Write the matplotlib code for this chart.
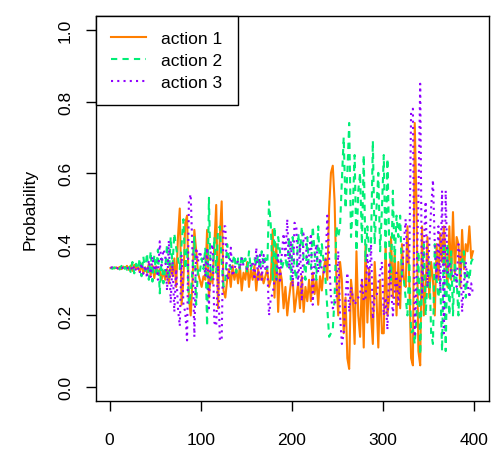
import numpy as np
import matplotlib
matplotlib.use("Agg")
import matplotlib.pyplot as plt

plt.rcParams["font.family"] = ["Liberation Sans", "DejaVu Sans"]

# Zeitpunkte (jeder zweite von 1 bis 399)
steps = np.arange(1, 400, 2)

# Wahrscheinlichkeiten (10 Werte pro Zeile)
action1 = [
    .333, .334, .332, .335, .331, .336, .330, .337, .332, .339,
    .328, .340, .325, .342, .330, .336, .322, .344, .318, .335,
    .320, .345, .312, .340, .305, .338, .315, .330, .300, .325,
    .300, .330, .290, .345, .310, .360, .280, .420, .500, .230,
    .300, .460, .480, .250, .200, .300, .440, .380, .320, .300,
    .280, .310, .300, .440, .250, .320, .290, .400, .510, .220,
    .420, .520, .270, .250, .300, .330, .280, .340, .300, .330,
    .290, .340, .270, .320, .300, .350, .280, .330, .300, .340,
    .270, .330, .300, .320, .290, .310, .330, .280, .300, .440,
    .250, .400, .210, .330, .300, .220, .280, .200, .250, .290,
    .300, .210, .250, .290, .220, .310, .210, .280, .240, .300,
    .240, .320, .260, .300, .230, .310, .270, .330, .360, .300,
    .500, .600, .620, .520, .300, .200, .350, .300, .150, .250,
    .080, .050, .300, .250, .120, .380, .200, .140, .300, .110,
    .400, .180, .330, .200, .120, .350, .250, .110, .300, .150,
    .150, .400, .200, .250, .420, .250, .380, .200, .350, .220,
    .400, .300, .280, .450, .300, .080, .060, .740, .500, .100,
    .060, .450, .200, .280, .420, .250, .350, .300, .200, .400,
    .300, .430, .350, .450, .350, .280, .450, .300, .490, .320,
    .420, .400, .280, .440, .330, .400, .380, .450, .360, .380,
]
action2 = [
    .333, .331, .335, .330, .337, .329, .339, .327, .336, .328,
    .340, .322, .350, .318, .345, .330, .360, .310, .365, .325,
    .375, .300, .380, .295, .370, .320, .385, .262, .360, .290,
    .330, .400, .300, .420, .340, .430, .390, .360, .330, .400,
    .470, .330, .390, .230, .260, .330, .420, .230, .330, .320,
    .360, .330, .390, .170, .530, .300, .310, .420, .320, .440,
    .450, .350, .280, .300, .400, .360, .330, .350, .370, .320,
    .360, .330, .370, .340, .360, .320, .380, .330, .350, .360,
    .340, .370, .330, .380, .340, .360, .330, .520, .450, .300,
    .450, .300, .420, .380, .330, .350, .360, .330, .420, .300,
    .420, .330, .300, .430, .380, .450, .360, .300, .420, .330,
    .330, .450, .380, .300, .450, .330, .400, .350, .300, .220,
    .140, .150, .160, .250, .450, .420, .450, .580, .700, .500,
    .600, .740, .420, .500, .650, .380, .550, .600, .400, .650,
    .350, .450, .380, .400, .690, .400, .500, .600, .380, .500,
    .650, .350, .640, .400, .300, .550, .350, .480, .420, .480,
    .300, .300, .250, .200, .350, .150, .160, .120, .200, .380,
    .090, .300, .400, .200, .300, .350, .150, .120, .400, .300,
    .250, .300, .100, .400, .100, .400, .200, .380, .200, .350,
    .300, .200, .350, .350, .380, .250, .330, .300, .350, .360,
]
action3 = [
    .334, .335, .333, .335, .332, .335, .331, .336, .332, .333,
    .332, .338, .325, .340, .325, .334, .318, .346, .317, .340,
    .305, .355, .308, .365, .325, .342, .300, .408, .340, .385,
    .370, .270, .410, .235, .350, .210, .330, .220, .170, .370,
    .230, .210, .130, .520, .540, .370, .140, .390, .350, .380,
    .360, .360, .310, .390, .220, .380, .400, .180, .170, .340,
    .130, .130, .450, .450, .300, .310, .390, .310, .330, .350,
    .350, .330, .360, .340, .340, .330, .340, .340, .350, .300,
    .390, .300, .370, .300, .370, .330, .340, .200, .250, .260,
    .300, .300, .370, .290, .370, .430, .360, .470, .330, .410,
    .280, .460, .450, .280, .400, .240, .430, .420, .340, .370,
    .430, .230, .360, .400, .320, .360, .330, .320, .340, .480,
    .360, .250, .220, .230, .250, .380, .200, .120, .150, .250,
    .320, .210, .280, .250, .230, .240, .250, .260, .300, .240,
    .250, .370, .290, .400, .190, .250, .250, .290, .320, .350,
    .200, .250, .160, .350, .280, .200, .270, .320, .230, .300,
    .300, .400, .470, .350, .350, .770, .780, .140, .300, .520,
    .850, .250, .400, .520, .280, .400, .500, .580, .400, .300,
    .450, .270, .550, .150, .550, .320, .350, .320, .310, .330,
    .280, .400, .370, .210, .290, .350, .290, .250, .290, .260,
]

labels = ["action 1", "action 2", "action 3"]
colors = ["#FF7F00", "#00EE76", "#9000FF"]

fig = plt.figure(figsize=(4.94, 4.77), dpi=100)
ax = fig.add_axes([96 / 494, 75 / 477, 392.5 / 494, 385 / 477])

lw = 1.5
ax.plot(steps, action1, color=colors[0], lw=lw, label=labels[0])
ax.plot(steps, action2, color=colors[1], lw=lw, dashes=(3, 2.5), label=labels[1])
ax.plot(steps, action3, color=colors[2], lw=lw, dashes=(1, 2), label=labels[2])

ax.set_xlim(-15, 416)
ax.set_ylim(-0.04, 1.04)
ax.set_xticks([0, 100, 200, 300, 400])
ax.set_yticks([0, 0.2, 0.4, 0.6, 0.8, 1.0])
ax.set_yticklabels(["0.0", "0.2", "0.4", "0.6", "0.8", "1.0"], rotation=90, va="center")
ax.tick_params(axis="both", direction="out", length=7.5, width=1, labelsize=12.5)
ax.tick_params(axis="x", pad=15)
ax.tick_params(axis="y", pad=9)
for s in ax.spines.values():
    s.set_linewidth(1)

fig.text(30 / 494, 0.5 * (75 + 460) / 477, "Probability", rotation=90,
         ha="center", va="center", fontsize=12.5)

leg = ax.legend(loc="upper left", bbox_to_anchor=(0, 1), borderaxespad=0,
                fancybox=False, edgecolor="black", framealpha=1, fontsize=12.5,
                handlelength=2.0, handletextpad=0.9, borderpad=0.87, labelspacing=0.385)
leg.get_frame().set_linewidth(1)

fig.savefig("out.png", dpi=100)
